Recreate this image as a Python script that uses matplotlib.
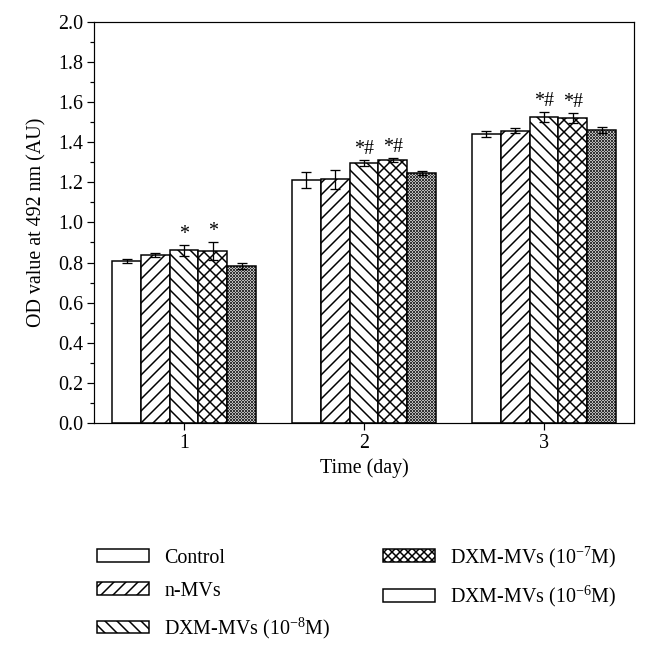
import matplotlib
matplotlib.use("Agg")
import matplotlib.pyplot as plt
from matplotlib.patches import Patch
import numpy as np

### data
days = [1, 2, 3]
groups = ["Control", "n-MVs", "DXM-MVs (10$^{-8}$M)",
          "DXM-MVs (10$^{-7}$M)", "DXM-MVs (10$^{-6}$M)"]
means = [
    [0.81, 1.212, 1.441],   # Control
    [0.837, 1.215, 1.457],  # n-MVs
    [0.862, 1.295, 1.525],  # DXM 1e-8
    [0.857, 1.310, 1.522],  # DXM 1e-7
    [0.782, 1.245, 1.460],  # DXM 1e-6
]
errs = [
    [0.010, 0.040, 0.015],
    [0.010, 0.047, 0.012],
    [0.027, 0.015, 0.025],
    [0.043, 0.010, 0.025],
    [0.015, 0.010, 0.015],
]
marks = [
    ["", "", ""],
    ["", "", ""],
    ["*", "*#", "*#"],
    ["*", "*#", "*#"],
    ["", "", ""],
]

### style
plt.rcParams['font.family'] = ['Liberation Serif', 'DejaVu Serif']
plt.rcParams['mathtext.fontset'] = 'custom'
plt.rcParams['mathtext.rm'] = 'Liberation Serif'
plt.rcParams['hatch.linewidth'] = 1.5
plt.rcParams['axes.linewidth'] = 1.2

fs = 20
hatches = ["", "//", "\\\\", "xx", "x" * 8]
width = 0.16

fig = plt.figure(figsize=(649/72, 657/72), dpi=72)
ax = fig.add_axes([0.145, 0.356, 0.832, 0.611])

x = np.array(days, dtype=float)
for i in range(len(groups)):
    pos = x + (i - 2) * width
    if i == 4:
        # fine grey checker pattern, outline drawn separately
        with plt.rc_context({'hatch.linewidth': 0.8}):
            fine = ax.bar(pos, means[i], width, facecolor='white', edgecolor='#303030',
                          hatch=hatches[i], linewidth=0)
        for b in fine:
            if hasattr(b, 'set_hatch_linewidth'):
                b.set_hatch_linewidth(0.8)
        ax.bar(pos, means[i], width, fill=False, edgecolor='black', linewidth=1.5)
    else:
        ax.bar(pos, means[i], width, facecolor='white', edgecolor='black',
               hatch=hatches[i], linewidth=1.5)
    ax.errorbar(pos, means[i], yerr=errs[i], fmt='none', ecolor='black',
                elinewidth=1.3, capsize=5, capthick=1.3)
    for p, m, e, s in zip(pos, means[i], errs[i], marks[i]):
        if s:
            ax.text(p, m + e + 0.005, s, ha='center', va='bottom', fontsize=fs)

ax.set_xlim(0.5, 3.5)
ax.set_ylim(0, 2.0)
ax.set_xticks(days)
ax.set_yticks(np.arange(0, 2.01, 0.2))
ax.set_yticks(np.arange(0.1, 2.0, 0.2), minor=True)
ax.yaxis.set_major_formatter(matplotlib.ticker.FormatStrFormatter('%.1f'))
ax.tick_params(axis='both', direction='out', labelsize=fs, length=7, width=1.2)
ax.tick_params(axis='y', which='minor', direction='out', length=4, width=1.2)
ax.set_xlabel("Time (day)", fontsize=fs, labelpad=6)
ax.set_ylabel("OD value at 492 nm (AU)", fontsize=fs, labelpad=12)

# legend (last entry drawn empty as in the original)
leg_hatch = ["", "//", "\\\\", "xxx", ""]
handles = [Patch(facecolor='white', edgecolor='black', hatch=h, linewidth=1.5)
           for h in leg_hatch]
fig.legend(handles, groups, ncol=2, loc='upper left',
           bbox_to_anchor=(0.122, 0.20), frameon=False, fontsize=fs,
           handlelength=2.6, handleheight=0.6, handletextpad=0.75,
           columnspacing=2.65, labelspacing=0.7)

fig.savefig("out.png", dpi=72)
